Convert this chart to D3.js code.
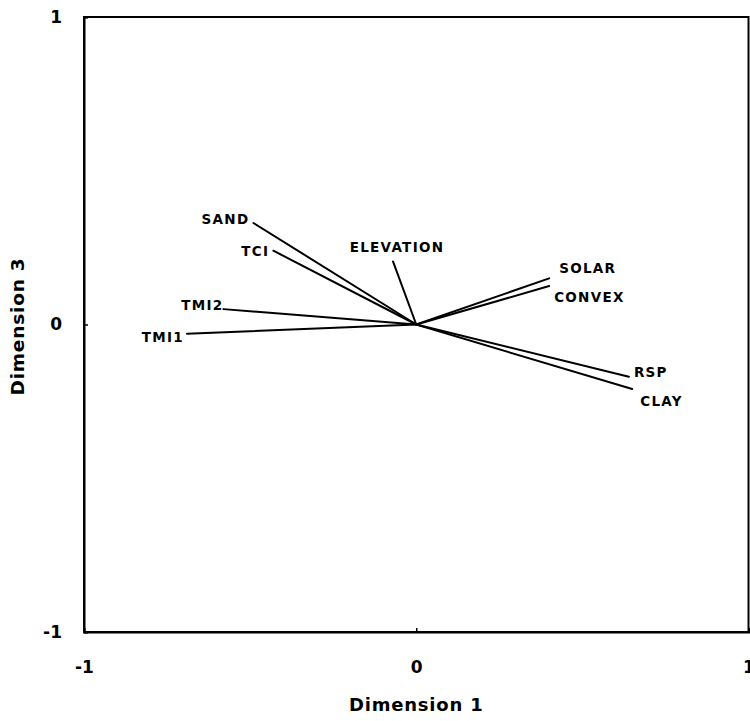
<!DOCTYPE html>
<html>
<head>
<meta charset="utf-8">
<script src="https://cdn.jsdelivr.net/npm/d3@7"></script>
<style>
  html, body { margin: 0; padding: 0; background: #fff; }
  svg { display: block; }
</style>
</head>
<body>
<svg id="chart" width="750" height="721"></svg>
<script>
// Biplot loadings: variable vectors on dimensions 1 and 3
const variables = ["SAND", "TCI", "ELEVATION", "TMI2", "TMI1", "SOLAR", "CONVEX", "RSP", "CLAY"];
const dim1 = [-0.49, -0.43, -0.07, -0.58, -0.69, 0.40, 0.40, 0.64, 0.65];
const dim3 = [0.33, 0.24, 0.205, 0.05, -0.03, 0.15, 0.125, -0.17, -0.21];
const tickValues = [-1, 0, 1];
const xTitle = "Dimension 1";
const yTitle = "Dimension 3";

// Label placement next to each vector tip (pixel offsets, text anchor)
const labelLayout = [
  { dx: -4, dy: 1,  anchor: "end" },
  { dx: -4, dy: 5,  anchor: "end" },
  { dx: 4,  dy: -9, anchor: "middle" },
  { dx: 0,  dy: 1,  anchor: "end" },
  { dx: -3, dy: 8,  anchor: "end" },
  { dx: 10, dy: -5, anchor: "start" },
  { dx: 5,  dy: 16, anchor: "start" },
  { dx: 5,  dy: 0,  anchor: "start" },
  { dx: 8,  dy: 17, anchor: "start" }
];

const svg = d3.select("#chart");
const plot = { left: 84, right: 748.5, top: 17, bottom: 632 };

const x = d3.scaleLinear().domain([-1, 1]).range([plot.left, plot.right]);
const y = d3.scaleLinear().domain([-1, 1]).range([plot.bottom, plot.top]);

const fontMain = "'DejaVu Sans', sans-serif";

// Frame
svg.append("rect")
  .attr("x", plot.left).attr("y", plot.top)
  .attr("width", plot.right - plot.left).attr("height", plot.bottom - plot.top)
  .attr("fill", "none").attr("stroke", "#000").attr("stroke-width", 2);

// Axes with inward ticks
const xAxis = svg.append("g")
  .attr("transform", `translate(0,${plot.bottom})`)
  .call(d3.axisBottom(x).tickValues(tickValues).tickSize(-4).tickPadding(29).tickFormat(d3.format("d")));
const yAxis = svg.append("g")
  .attr("transform", `translate(${plot.left},0)`)
  .call(d3.axisLeft(y).tickValues(tickValues).tickSize(-4).tickPadding(22).tickFormat(d3.format("d")));

[xAxis, yAxis].forEach(g => {
  g.select(".domain").attr("stroke", "#000").attr("stroke-width", 2);
  g.selectAll(".tick line").attr("stroke", "#000").attr("stroke-width", 1.5);
  g.selectAll(".tick text")
    .attr("fill", "#000")
    .style("font-family", fontMain)
    .style("font-weight", "bold")
    .style("font-size", "17px");
});
// Minus sign as a plain hyphen
svg.selectAll(".tick text").text(d => d < 0 ? "-" + Math.abs(d) : String(d));

// Axis titles
svg.append("text")
  .attr("x", (plot.left + plot.right) / 2)
  .attr("y", 711)
  .attr("text-anchor", "middle")
  .style("font-family", fontMain)
  .style("font-weight", "bold")
  .style("font-size", "18px")
  .style("letter-spacing", "0.8px")
  .text(xTitle);

svg.append("text")
  .attr("transform", `translate(23.5,${(plot.top + plot.bottom) / 2 + 2}) rotate(-90)`)
  .attr("text-anchor", "middle")
  .style("font-family", fontMain)
  .style("font-weight", "bold")
  .style("font-size", "18.5px")
  .style("letter-spacing", "0.8px")
  .text(yTitle);

// Vectors from the origin
const data = variables.map((name, i) => ({ name, d1: dim1[i], d3: dim3[i], layout: labelLayout[i] }));

svg.append("g").selectAll("line")
  .data(data)
  .join("line")
  .attr("x1", x(0)).attr("y1", y(0))
  .attr("x2", d => x(d.d1)).attr("y2", d => y(d.d3))
  .attr("stroke", "#000")
  .attr("stroke-width", 2)
  .attr("stroke-linecap", "round");

svg.append("g").selectAll("text")
  .data(data)
  .join("text")
  .attr("x", d => x(d.d1) + d.layout.dx)
  .attr("y", d => y(d.d3) + d.layout.dy)
  .attr("text-anchor", d => d.layout.anchor)
  .style("font-family", fontMain)
  .style("font-weight", "bold")
  .style("font-size", "13.5px")
  .style("letter-spacing", "1.3px")
  .text(d => d.name);
</script>
</body>
</html>
